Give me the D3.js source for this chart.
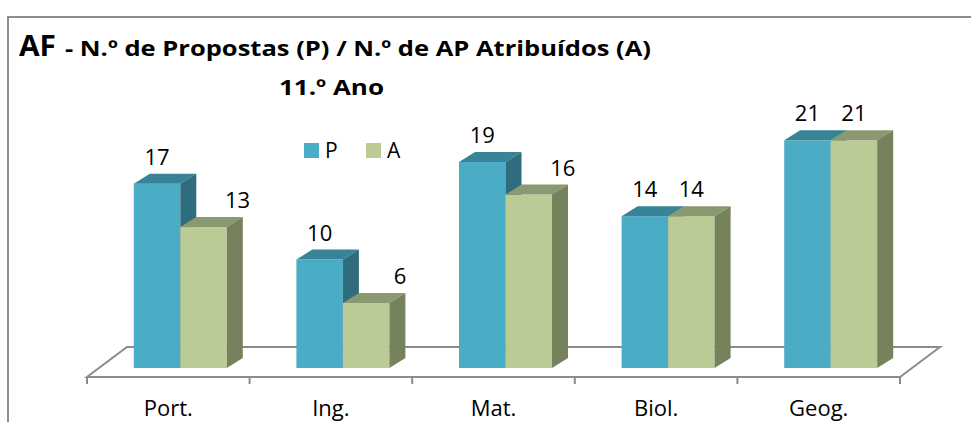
<!DOCTYPE html>
<html>
<head>
<meta charset="utf-8">
<script src="https://cdn.jsdelivr.net/npm/d3@7"></script>
<style>
  body { margin: 0; background: #fff; }
  svg { display: block; font-family: "Open Sans", sans-serif; }
</style>
</head>
<body>
<svg width="971" height="422"></svg>
<script>

var categories = ["Port.", "Ing.", "Mat.", "Biol.", "Geog."],
    propostas = [17, 10, 19, 14, 21],
    atribuidos = [13, 6, 16, 14, 21],
    seriesNames = ["P", "A"];

var colors = {
  P: {front: "#4bacc6", top: "#378397", side: "#2f6d7e"},
  A: {front: "#bbcb96", top: "#8b9971", side: "#76825c"}
};

var svg = d3.select("svg"),
    floorFront = 377,
    floorDepth = {dx: 40, dy: -30},
    barBase = 368,
    barShift = 12,
    barW = 46.5,
    depth = {dx: 16, dy: -10};

// chart frame (runs off the right and bottom)
svg.append("rect")
    .attr("x", 8).attr("y", 17)
    .attr("width", 1000).attr("height", 500)
    .attr("fill", "none")
    .attr("stroke", "#8c8c8c")
    .attr("stroke-width", 2);

var x = d3.scaleBand()
    .domain(categories)
    .range([87, 900]);

var y = d3.scaleLinear()
    .domain([0, 21])
    .range([barBase, 140.3]);

// floor
var fl = x.range()[0], fr = x.range()[1];
svg.append("path")
    .attr("d", "M" + fl + "," + floorFront +
               "L" + fr + "," + floorFront +
               "L" + (fr + floorDepth.dx) + "," + (floorFront + floorDepth.dy) +
               "L" + (fl + floorDepth.dx) + "," + (floorFront + floorDepth.dy) + "Z")
    .attr("fill", "#fff")
    .attr("stroke", "#8c8c8c")
    .attr("stroke-width", 2)
    .attr("stroke-linejoin", "miter");

// tick marks between categories
svg.append("g").selectAll("line")
    .data(d3.range(categories.length + 1))
  .enter().append("line")
    .attr("x1", function(i) { return fl + i * x.step(); })
    .attr("x2", function(i) { return fl + i * x.step(); })
    .attr("y1", floorFront)
    .attr("y2", floorFront + 7)
    .attr("stroke", "#8c8c8c")
    .attr("stroke-width", 2);

// category labels
var xAxis = d3.axisBottom(x).tickSize(0).tickPadding(0);
var ax = svg.append("g")
    .attr("transform", "translate(0," + (floorFront + 23) + ")")
    .call(xAxis);
ax.select(".domain").remove();
ax.selectAll("text")
    .attr("font-family", "Open Sans, sans-serif")
    .attr("font-size", 22)
    .attr("fill", "#000");

// bars
var data = categories.map(function(c, i) {
  return {cat: c, vals: [propostas[i], atribuidos[i]]};
});

function box(g, x0, v, c) {
  var top = y(v), x1 = x0 + barW;
  g.append("rect")
      .attr("x", x0).attr("y", top)
      .attr("width", barW).attr("height", barBase - top)
      .attr("fill", c.front);
  g.append("path")
      .attr("d", "M" + x0 + "," + top + "L" + (x0 + depth.dx) + "," + (top + depth.dy) +
                 "L" + (x1 + depth.dx) + "," + (top + depth.dy) + "L" + x1 + "," + top + "Z")
      .attr("fill", c.top);
  g.append("path")
      .attr("d", "M" + x1 + "," + top + "L" + (x1 + depth.dx) + "," + (top + depth.dy) +
                 "L" + (x1 + depth.dx) + "," + (barBase + depth.dy) + "L" + x1 + "," + barBase + "Z")
      .attr("fill", c.side);
}

var bars = svg.append("g");
data.forEach(function(d) {
  var cx = x(d.cat) + x.bandwidth() / 2 + barShift;
  d.vals.forEach(function(v, j) {
    var x0 = cx - barW + j * barW;
    box(bars, x0, v, colors[seriesNames[j]]);
    // value label; A label moves right when the P bar is taller
    var lx = x0 + barW / 2;
    if (j === 1 && v < d.vals[0]) lx += 34;
    bars.append("text")
        .attr("x", lx)
        .attr("y", y(v) + depth.dy - 9)
        .attr("text-anchor", "middle")
        .attr("font-size", 22)
        .text(v);
  });
});

// legend
var legend = svg.append("g").attr("transform", "translate(304,143)");
seriesNames.forEach(function(s, i) {
  var lg = legend.append("g").attr("transform", "translate(" + (i * 62) + ",0)");
  lg.append("rect").attr("width", 15).attr("height", 15).attr("fill", colors[s].front);
  lg.append("text").attr("x", 21).attr("y", 15).attr("font-size", 21).text(s);
});

// title
svg.append("text")
    .attr("x", 19).attr("y", 56)
    .attr("font-weight", "bold")
    .attr("font-size", 28)
    .attr("textLength", 37)
    .attr("lengthAdjust", "spacingAndGlyphs")
    .text("AF");
svg.append("text")
    .attr("x", 65).attr("y", 56)
    .attr("font-weight", "bold")
    .attr("font-size", 21)
    .attr("textLength", 586)
    .attr("lengthAdjust", "spacingAndGlyphs")
    .text("- N.º de Propostas (P) / N.º de AP Atribuídos (A)");
svg.append("text")
    .attr("x", 279).attr("y", 95)
    .attr("font-weight", "bold")
    .attr("font-size", 22)
    .attr("textLength", 105)
    .attr("lengthAdjust", "spacingAndGlyphs")
    .text("11.º Ano");

</script>
</body>
</html>
